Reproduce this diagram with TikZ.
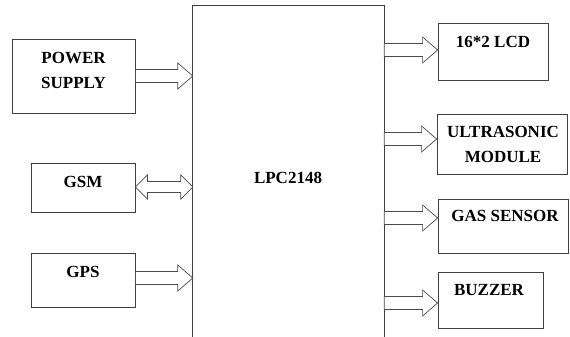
\documentclass[tikz,border=0pt]{standalone}
\usepackage{fontspec}
\setmainfont{Liberation Serif}
\usetikzlibrary{positioning,calc}

\tikzset{
  blk/.style={draw=black!75,line width=0.8pt,inner sep=0pt},
  lbl/.style={font=\fontsize{17}{25}\selectfont\bfseries,align=center,inner sep=0pt},
  fat/.style={draw=black!70,line width=0.7pt,fill=white,line join=miter}
}
% hollow block arrow: from node #1 (east) to node #2 (west) at height #3
\newcommand{\fatarrow}[3]{%
  \draw[fat] ($(#1.east|-0,#3)+(0,-6.5)$) -- ($(#2.west|-0,#3)+(-15,-6.5)$)
    -- ++(0,-6.5) -- (#2.west|-0,#3) -- ++(-15,13) -- ++(0,-6.5)
    -- ($(#1.east|-0,#3)+(0,6.5)$) -- cycle;}
% hollow double arrow
\newcommand{\duoarrow}[3]{%
  \draw[fat] (#1.east|-0,#3) -- ++(12,-12) -- ++(0,6.5)
    -- ($(#2.west|-0,#3)+(-12,-5.5)$) -- ++(0,-6.5) -- (#2.west|-0,#3)
    -- ++(-12,12) -- ++(0,-6.5) -- ($(#1.east|-0,#3)+(12,5.5)$)
    -- ++(0,6.5) -- cycle;}

\begin{document}
\begin{tikzpicture}[x=1pt,y=-1pt]
  \useasboundingbox (0,0) rectangle (570,337);
  % controller, open at the bottom
  \node[inner sep=0pt,minimum width=191pt,minimum height=331.5pt] (mcu) at (288.5,171.25) {};
  \draw[black!75,line width=0.8pt] (mcu.south west) -- (mcu.north west) -- (mcu.north east) -- (mcu.south east);
  \node[lbl] (mcutxt) at (288,177.5) {LPC2148};

  % inputs
  \node[blk,minimum width=123pt,minimum height=74pt] (power) at (73.5,76) {};
  \node[lbl] (powertxt) at (73.5,70.5) {POWER\\SUPPLY};
  \node[blk,minimum width=104pt,minimum height=49pt] (gsm) at (83,187.5) {};
  \node[lbl] (gsmtxt) at (83,182) {GSM};
  \node[blk,minimum width=104pt,minimum height=54pt] (gps) at (83,280) {};
  \node[lbl] (gpstxt) at (83,272) {GPS};

  % outputs
  \node[blk,minimum width=110pt,minimum height=57pt] (lcd) at (493,51.5) {};
  \node[lbl] (lcdtxt) at (493,42) {16*2 LCD};
  \node[blk,minimum width=130pt,minimum height=60pt] (ultra) at (502,144) {};
  \node[lbl] (ultratxt) at (503,144.5) {ULTRASONIC\\MODULE};
  \node[blk,minimum width=130pt,minimum height=54pt] (gas) at (503,226) {};
  \node[lbl] (gastxt) at (505,216) {GAS SENSOR};
  \node[blk,minimum width=105pt,minimum height=56pt] (buzz) at (490.5,300) {};
  \node[lbl] (buzztxt) at (489,290) {BUZZER};

  % links
  \fatarrow{power}{mcu}{76}
  \duoarrow{gsm}{mcu}{187}
  \fatarrow{gps}{mcu}{278}
  \fatarrow{mcu}{lcd}{50}
  \fatarrow{mcu}{ultra}{139}
  \fatarrow{mcu}{gas}{218}
  \fatarrow{mcu}{buzz}{303}
\end{tikzpicture}
\end{document}
